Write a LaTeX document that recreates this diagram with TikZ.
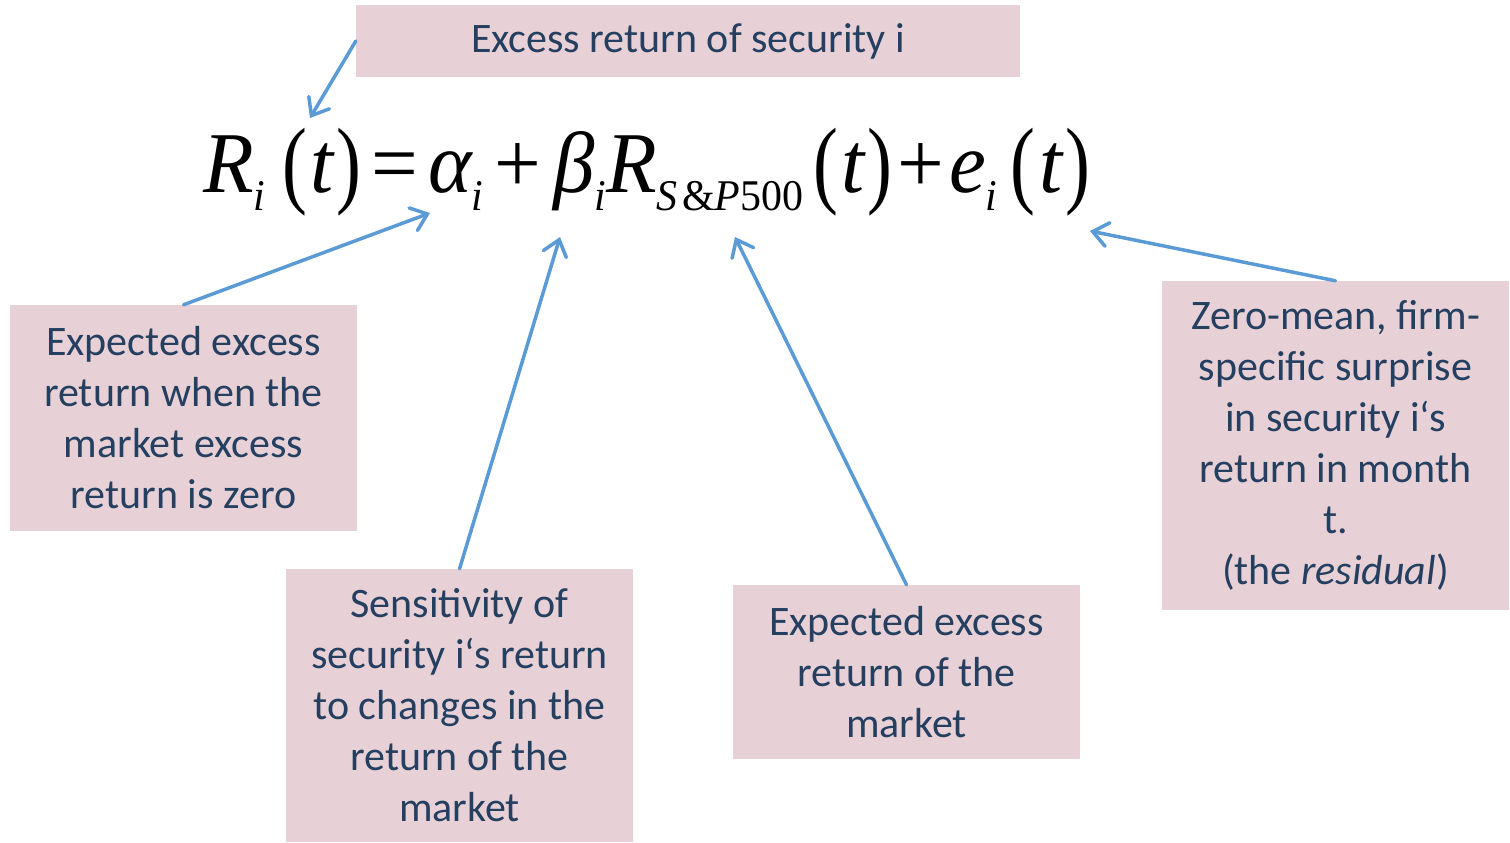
\documentclass[tikz,border=0pt]{standalone}
\usepackage{fontspec}
\setmainfont{Carlito}
\newfontfamily\eqfont{Liberation Serif}
\usetikzlibrary{arrows.meta}
\definecolor{boxfill}{RGB}{232,209,214}
\definecolor{txtcol}{RGB}{36,63,96}
\definecolor{arrcol}{RGB}{91,155,213}
\newcommand{\eqsub}[1]{\raisebox{-0.2em}{\fontsize{45}{45}\selectfont\itshape #1}}
\newcommand{\eqpar}[1]{\raisebox{-0.03em}{\scalebox{0.9}[1.12]{\upshape #1}}}
\tikzset{
  box/.style={fill=boxfill, draw=none, text=txtcol, align=center, inner sep=0pt,
    font=\fontsize{42}{51}\selectfont},
  conn/.style={draw=arrcol, line width=3.5pt, line cap=round,
    -{Straight Barb[length=15pt,width=24pt,line cap=round]}}
}
\begin{document}
\begin{tikzpicture}[x=1pt,y=-1pt]
\useasboundingbox (0,0) rectangle (1510,843);
\node[box, minimum width=664, minimum height=72] (top) at (688,41) {Excess return of security i};
\node[box, minimum width=347, minimum height=226] (left) at (183.5,418) {Expected excess\\return when the\\market excess\\return is zero};
\node[box, minimum width=347, minimum height=273] (ml) at (459.5,705.5) {Sensitivity of\\security i‘s return\\to changes in the\\return of the\\market};
\node[box, minimum width=347, minimum height=174] (mr) at (906.5,672) {Expected excess\\return of the\\market};
\node[box, minimum width=347, minimum height=329] (right) at (1335.5,445.5) {Zero-mean, firm-\\specific surprise\\in security i‘s\\return in month\\t.\\(the \textit{residual})};
\node[inner sep=0pt, anchor=west] (eq) at (203,172) {\resizebox*{887pt}{88pt}{\eqfont\fontsize{89}{89}\selectfont\itshape
R\eqsub{i}\hspace{0.2em}\eqpar{(}\hspace{0.04em}t\hspace{0.04em}\eqpar{)}\hspace{0.12em}\upshape=\hspace{0.12em}\itshape
α\eqsub{i}\hspace{0.14em}\upshape+\hspace{0.14em}\itshape
β\eqsub{i}R\eqsub{S\hspace{0.1em}\upshape\&\itshape P\upshape 500}\hspace{0.12em}\eqpar{(}\hspace{0.04em}t\hspace{0.04em}\eqpar{)}\hspace{0.06em}\upshape+\hspace{0.06em}\itshape
e\eqsub{i}\hspace{0.16em}\eqpar{(}\hspace{0.04em}t\hspace{0.04em}\eqpar{)}}};
\coordinate (p1) at (310,118);
\coordinate (p2) at (430,213);
\coordinate (p3) at (560,237);
\coordinate (p4) at (735,237);
\coordinate (p5) at (1090,231);
\draw[conn] (top.west) -- (p1);
\draw[conn] (left.north) -- (p2);
\draw[conn] (ml.north) -- (p3);
\draw[conn] (mr.north) -- (p4);
\draw[conn] (right.north) -- (p5);
\end{tikzpicture}
\end{document}
